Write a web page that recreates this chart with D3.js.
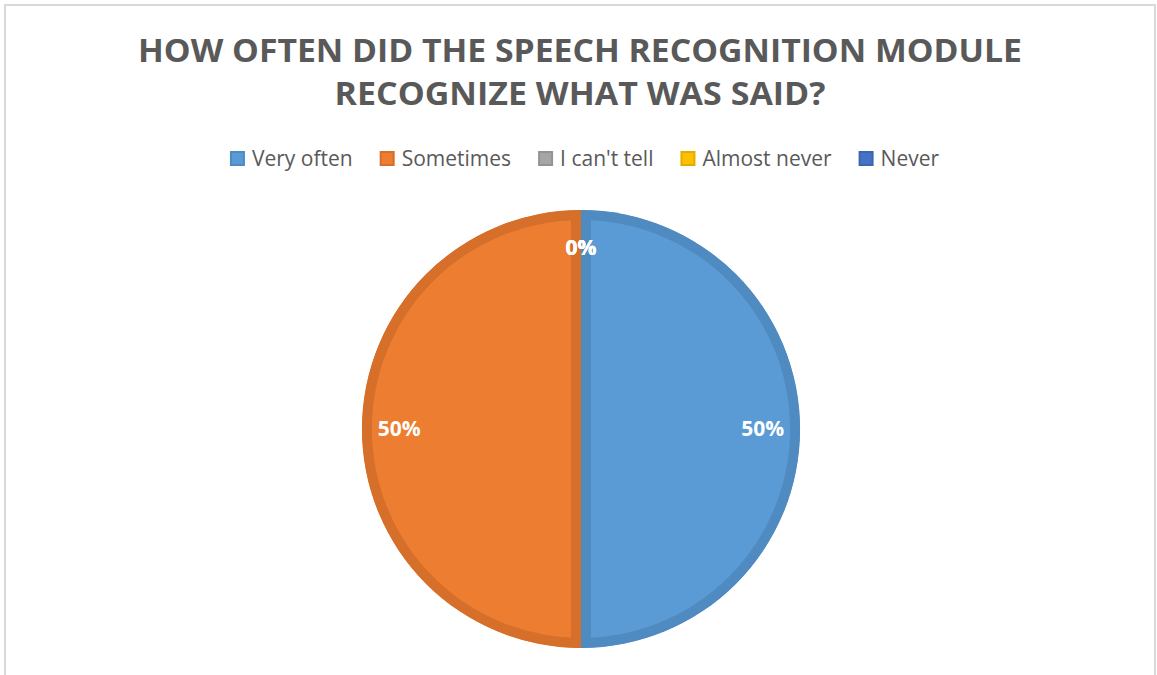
<!DOCTYPE html>
<html>
<head>
<meta charset="utf-8">
<script src="https://cdn.jsdelivr.net/npm/d3@7"></script>
<style>
  html, body { margin: 0; padding: 0; background: #ffffff; }
  svg { display: block; }
</style>
</head>
<body>
<svg id="chart" width="1157" height="675"></svg>
<script>
// Survey answers and their shares
const categories = ["Very often", "Sometimes", "I can't tell", "Almost never", "Never"];
const values = [50, 50, 0, 0, 0];
const fills = ["#5B9BD5", "#ED7D31", "#A5A5A5", "#FFC000", "#4472C4"];
const edges = ["#4F8AC0", "#D56F2A", "#939393", "#E5AC00", "#3C66B0"];
const titleLines = ["HOW OFTEN DID THE SPEECH RECOGNITION MODULE", "RECOGNIZE WHAT WAS SAID?"];

const W = 1157, H = 675;
const svg = d3.select("#chart");
const defs = svg.append("defs");

// chart frame
svg.append("path")
  .attr("d", `M5,${H} V5 H1155 V${H}`)
  .attr("fill", "none")
  .attr("stroke", "#D9D9D9")
  .attr("stroke-width", 2);

const font = "'Open Sans', 'Noto Sans', sans-serif";

// title, squeezed to a Calibri-like width
const titleWidths = [884, 491];
titleLines.forEach((t, i) => {
  svg.append("text")
    .attr("x", 580)
    .attr("y", 62 + i * 43)
    .attr("text-anchor", "middle")
    .attr("font-family", font)
    .attr("font-weight", 700)
    .attr("font-size", 33)
    .attr("fill", "#595959")
    .attr("textLength", titleWidths[i])
    .attr("lengthAdjust", "spacingAndGlyphs")
    .text(t);
});

// legend
const legend = svg.append("g");
const legendFont = 21, sw = 13, gap = 8, spacing = 28;
let lx = 0;
categories.forEach((c, i) => {
  const g = legend.append("g").attr("transform", `translate(${lx},0)`);
  g.append("rect").attr("x", 0).attr("y", -14).attr("width", sw).attr("height", sw)
    .attr("fill", fills[i]).attr("stroke", edges[i]).attr("stroke-width", 2);
  const t = g.append("text")
    .attr("x", sw + gap).attr("y", 0)
    .attr("font-family", font).attr("font-size", legendFont)
    .attr("fill", "#595959")
    .text(c);
  const w = t.node().getComputedTextLength();
  lx += sw + gap + w + spacing;
});
const legendWidth = lx - spacing;
legend.attr("transform", `translate(${585 - legendWidth / 2},166)`);

// pie
const cx = 581, cy = 429, R = 219, edgeW = 10;
const pie = d3.pie().sort(null).value(d => d).startAngle(0).endAngle(2 * Math.PI);
const arcs = pie(values);
const arc = d3.arc().innerRadius(0).outerRadius(R);
const labelArc = d3.arc().innerRadius(R * 0.83).outerRadius(R * 0.83);

const pg = svg.append("g").attr("transform", `translate(${cx},${cy})`);

arcs.forEach((a, i) => {
  if (a.endAngle - a.startAngle <= 0) return;
  const id = "slice-clip-" + i;
  defs.append("clipPath").attr("id", id)
    .append("path").attr("d", arc(a));
  // slice body with an inner darker rim
  pg.append("path")
    .attr("d", arc(a))
    .attr("fill", fills[i])
    .attr("stroke", edges[i])
    .attr("stroke-width", edgeW * 2)
    .attr("clip-path", `url(#${id})`);
});

// percentage labels
arcs.forEach((a, i) => {
  const [x, y] = labelArc.centroid(a);
  pg.append("text")
    .attr("x", x)
    .attr("y", y)
    .attr("dy", "0.35em")
    .attr("text-anchor", "middle")
    .attr("font-family", font)
    .attr("font-weight", 700)
    .attr("font-size", 21)
    .attr("fill", "#FFFFFF")
    .text(d3.format(".0%")(a.data / d3.sum(values)));
});
</script>
</body>
</html>
